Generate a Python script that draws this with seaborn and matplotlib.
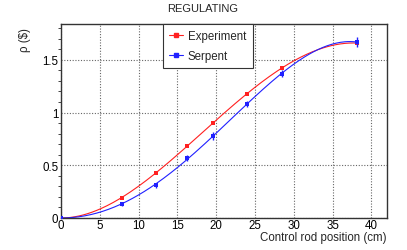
import numpy as np
import pandas as pd
import seaborn as sns
import matplotlib
matplotlib.use("Agg")
import matplotlib.pyplot as plt
from matplotlib.lines import Line2D
from matplotlib.ticker import MultipleLocator

# values
pos_exp = [0.0, 7.8, 12.3, 16.25, 19.6, 23.9, 28.5, 38.1]
rho_exp = [0.0, 0.19, 0.43, 0.68, 0.905, 1.18, 1.42, 1.66]
pos_serp = [0.0, 7.8, 12.3, 16.25, 19.6, 23.9, 28.5, 38.1]
rho_serp = [0.0, 0.13, 0.31, 0.57, 0.78, 1.08, 1.37, 1.67]
err_serp = [0.0, 0.02, 0.025, 0.03, 0.04, 0.03, 0.035, 0.05]

sns.set_style("white")
plt.rcParams.update({
    'font.family': ['Liberation Sans', 'DejaVu Sans'],
    'font.size': 8,
})

fig = plt.figure(figsize=(4.07, 2.51), dpi=100)
ax = fig.add_axes([61 / 407, 32 / 251, 326 / 407, 194 / 251])

series = [
    ('Experiment', pos_exp, rho_exp, None, '#ff2020'),
    ('Serpent', pos_serp, rho_serp, err_serp, '#2020ff'),
]


def fit_curve(x, y, xs):
    # least squares fit through the origin: a x^2 + b x^3 + c x^4
    x = np.asarray(x)
    A = np.vstack([x**2, x**3, x**4]).T
    c, *_ = np.linalg.lstsq(A, np.asarray(y), rcond=None)
    return c[0] * xs**2 + c[1] * xs**3 + c[2] * xs**4


for name, x, y, e, col in series:
    xs = np.linspace(0, max(x), 200)
    fit = pd.DataFrame({'x': xs, 'y': fit_curve(x, y, xs)})
    sns.lineplot(data=fit, x='x', y='y', color=col, lw=0.8, ax=ax)
    pts = pd.DataFrame({'x': x, 'y': y})
    sns.scatterplot(data=pts, x='x', y='y', color=col, marker='s', s=5,
                    linewidth=0, ax=ax, zorder=3)
    if e is not None:
        ax.errorbar(x, y, yerr=e, fmt='none', ecolor=col, elinewidth=1,
                    capsize=0, zorder=3)

ax.set_xlim(0, 42)
ax.set_ylim(0, 1.84)
ax.xaxis.set_major_locator(MultipleLocator(5))
ax.yaxis.set_minor_locator(MultipleLocator(0.1))
ax.set_yticks([0, 0.5, 1, 1.5])
ax.set_yticklabels(['0', '0.5', '1', '1.5'])
ax.tick_params(axis='both', direction='in', labelsize=8.3, colors='#333333',
               labelcolor='black')
ax.tick_params(axis='y', which='major', length=5, pad=2)
ax.tick_params(axis='y', which='minor', length=2.5, left=True)
ax.tick_params(axis='x', which='major', length=0, pad=1)
ax.grid(True, which='major', ls=(0, (1, 1.5)), color='#666666', lw=0.8)
for s in ax.spines.values():
    s.set_color('#333333')
    s.set_linewidth(1)

ax.set_xlabel('')
ax.set_ylabel('')
fig.text(386 / 407, 1 - 238 / 251, 'Control rod position (cm)', ha='right',
         va='center', fontsize=8.3)
fig.text(25 / 407, 1 - 28 / 251, 'ρ ($)', rotation=90, ha='center', va='top',
         fontsize=8.3)
fig.text(203 / 407, 1 - 9 / 251, 'REGULATING', ha='center', va='center',
         fontsize=8)

handles = [Line2D([], [], color=c, lw=0.8, marker='s', ms=2.2)
           for _, _, _, _, c in series]
leg = ax.legend(handles, [s[0] for s in series], loc='upper left',
                bbox_to_anchor=(163 / 407, 1 - 25 / 251),
                bbox_transform=fig.transFigure, fancybox=False,
                framealpha=1, edgecolor='#333333', fontsize=8.3,
                handlelength=1.2, handletextpad=0.4, borderpad=0.55,
                labelspacing=0.65, borderaxespad=0)
leg.get_frame().set_linewidth(0.8)

fig.savefig('out.png', dpi=100)
